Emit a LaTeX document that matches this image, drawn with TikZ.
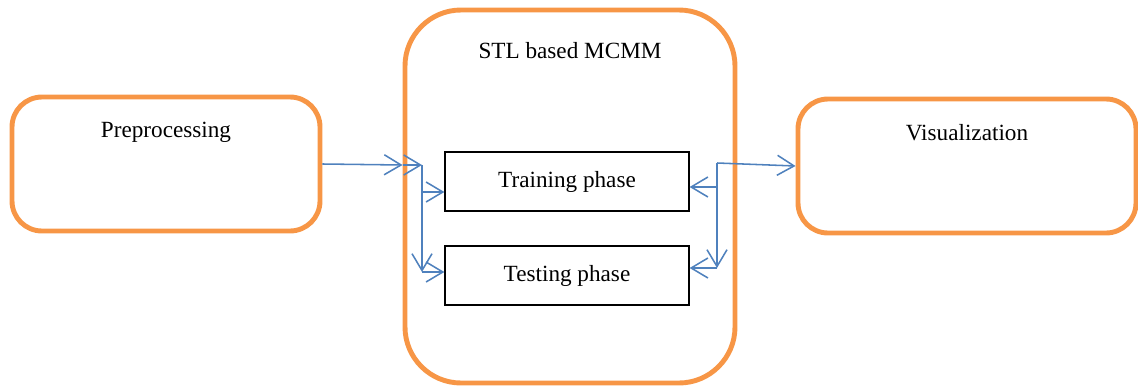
\documentclass[tikz,border=0pt]{standalone}
\usepackage{fontspec}
\setmainfont{Liberation Serif}
\usetikzlibrary{arrows.meta}
\definecolor{boxorange}{HTML}{F79646}
\definecolor{lineblue}{HTML}{4F81BD}
\tikzstyle{outer} = [rectangle, rounded corners=0.75cm, draw=boxorange, line width=3.5pt, minimum width=7.7cm, minimum height=3.35cm]
\tikzstyle{phase} = [rectangle, draw=black, line width=0.9pt, minimum width=6.1cm, minimum height=1.475cm, text centered]
\tikzstyle{arrow} = [draw=lineblue, line width=1.1pt, -{Straight Barb[length=4.2mm,width=5mm]}]

\begin{document}
\begin{tikzpicture}[font=\fontsize{16.5}{20}\selectfont]
\useasboundingbox (0,0) rectangle (28.45,-9.725);

\node (pre) [outer, label={[anchor=center, yshift=-0.95cm]north:Preprocessing}] at (4.15,-4.1) {};

\node (main) [outer, rounded corners=1.4cm, minimum width=8.25cm, minimum height=9.325cm, label={[anchor=center, yshift=-1.08cm]north:STL based MCMM}] at (14.25,-4.9125) {};

\node (vis) [outer, minimum width=8.45cm, label={[anchor=center, yshift=-0.9cm]north:Visualization}] at (24.175,-4.15) {};

\node (train) [phase] at (14.175,-4.5375) {Training phase};

\node (test) [phase] at (14.175,-6.8875) {Testing phase};

% split points
\coordinate (lt) at (10.55,-4.125);
\coordinate (lmid) at (10.55,-4.8);
\coordinate (lb) at (10.55,-6.8);
\coordinate (rt) at (17.925,-4.075);
\coordinate (rmid) at (17.925,-4.675);
\coordinate (rb) at (17.925,-6.7);

\draw [arrow] (pre.east) -- (main.west |- lt);
\draw [arrow] (main.west |- lt) -- (lt);
\draw [arrow] (lt) -- (lb);
\draw [arrow] (lmid) -- (train.west |- lmid);
\draw [arrow] (lb) -- (test.west |- lb);

\draw [arrow] (rt) -- (vis.west);
\draw [arrow] (rt) -- (rb);
\draw [arrow] (rmid) -- (train.east |- rmid);
\draw [arrow] (rb) -- (test.east |- rb);

\end{tikzpicture}
\end{document}
